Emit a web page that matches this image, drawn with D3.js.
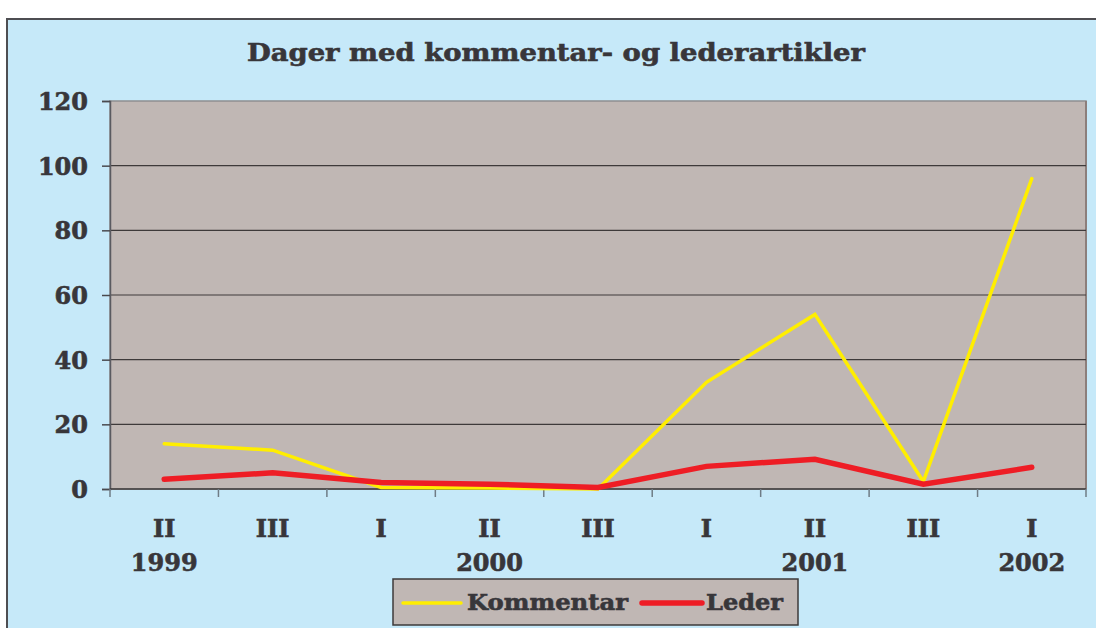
<!DOCTYPE html>
<html>
<head>
<meta charset="utf-8">
<script src="https://cdn.jsdelivr.net/npm/d3@7"></script>
<style>
	body { margin: 0; background: #fff; }
	svg text { font-family: "DejaVu Serif", serif; font-weight: bold; fill: #38363a; stroke: #38363a; stroke-width: 0.6px; }
</style>
</head>
<body>
<svg id="chart" width="1096" height="628"></svg>
<script>
(function() {

	// DATA
	var quarters = ['II', 'III', 'I', 'II', 'III', 'I', 'II', 'III', 'I'];
	var years = ['1999', '', '', '2000', '', '', '2001', '', '2002'];
	var kommentar = [14, 12, 0.5, 0.3, 0, 33, 54, 2.3, 96];
	var leder = [3, 5, 2, 1.5, 0.5, 7, 9.2, 1.5, 6.7];
	var yTicks = [0, 20, 40, 60, 80, 100, 120];
	var seriesNames = ['Kommentar', 'Leder'];

	//VARS
	var colors = { Kommentar: '#ffee00', Leder: '#ee1d25' }
	var widths = { Kommentar: 3.5, Leder: 5.5 }
	var margin = { top: 101, bottom: 139, left: 110, right: 10 }
	var width = 1096 - margin.left - margin.right
	var height = 628 - margin.top - margin.bottom

	var svg = d3.select('#chart')

	// frame
	svg.append('rect')
		.attr('x', 7).attr('y', 19)
		.attr('width', 1200).attr('height', 700)
		.attr('fill', '#c6e9f9')
		.attr('stroke', '#4e4e52')
		.attr('stroke-width', 2)

	svg.append('text')
		.attr('x', 556)
		.attr('y', 61)
		.attr('text-anchor', 'middle')
		.attr('font-size', 24)
		.attr('textLength', 618)
		.attr('lengthAdjust', 'spacingAndGlyphs')
		.text('Dager med kommentar- og lederartikler')

	var g = svg.append('g')
		.attr('transform', 'translate(' + margin.left + ',' + margin.top + ')')

	// SCALES
	var x = d3.scaleBand()
		.domain(d3.range(quarters.length))
		.range([0, width])

	var y = d3.scaleLinear()
		.domain([0, 120])
		.range([height, 0])

	// plot area
	g.append('rect')
		.attr('width', width)
		.attr('height', height)
		.attr('fill', '#c0b7b4')
		.attr('stroke', '#8e8e90')
		.attr('stroke-width', 1.5)

	g.append('line')
		.attr('x1', width).attr('x2', width)
		.attr('y1', 0).attr('y2', height)
		.attr('stroke', '#8c7e7b')
		.attr('stroke-width', 2)

	// gridlines
	g.append('g')
		.selectAll('line')
		.data(yTicks.filter(function(d) { return d > 0 && d < 120; }))
		.enter().append('line')
		.attr('x1', 0).attr('x2', width)
		.attr('y1', function(d) { return y(d); })
		.attr('y2', function(d) { return y(d); })
		.attr('stroke', '#3e3a3a')
		.attr('stroke-width', 1.2)

	// y axis
	var axisY = d3.axisLeft(y)
		.tickValues(yTicks)
		.tickSize(8)
		.tickPadding(14)

	var gy = g.append('g').attr('class', 'axis axis--y').call(axisY)
	gy.select('.domain').attr('stroke', '#5a5a60').attr('stroke-width', 1.5)
	gy.selectAll('.tick line').attr('stroke', '#4a4a4e').attr('stroke-width', 1.5)
	gy.selectAll('.tick text')
		.attr('font-size', 24)
		.attr('font-family', '"DejaVu Serif", serif')
		.attr('font-weight', 'bold')
		.attr('fill', '#38363a')
		.attr('dy', '0.36em')

	// x axis baseline + boundary ticks
	g.append('line')
		.attr('x1', 0).attr('x2', width)
		.attr('y1', height).attr('y2', height)
		.attr('stroke', '#3e3a3a')
		.attr('stroke-width', 1.5)

	var bounds = x.domain().map(function(d) { return x(d); }).concat([width])
	g.append('g')
		.selectAll('line')
		.data(bounds)
		.enter().append('line')
		.attr('x1', function(d) { return d; })
		.attr('x2', function(d) { return d; })
		.attr('y1', height)
		.attr('y2', height + 8)
		.attr('stroke', '#6f7c86')
		.attr('stroke-width', 1.5)

	var labels = g.append('g').attr('class', 'axis axis--x')
	labels.selectAll('.quarter')
		.data(quarters)
		.enter().append('text')
		.attr('class', 'quarter')
		.attr('x', function(d, i) { return x(i) + x.bandwidth() / 2; })
		.attr('y', height + 48)
		.attr('text-anchor', 'middle')
		.attr('font-size', 24)
		.text(function(d) { return d; })

	labels.selectAll('.year')
		.data(years)
		.enter().append('text')
		.attr('class', 'year')
		.attr('x', function(d, i) { return x(i) + x.bandwidth() / 2; })
		.attr('y', height + 82)
		.attr('text-anchor', 'middle')
		.attr('font-size', 24)
		.text(function(d) { return d; })

	// LINES
	var line = d3.line()
		.x(function(d, i) { return x(i) + x.bandwidth() / 2; })
		.y(function(d) { return y(d); })

	var seriesData = { Kommentar: kommentar, Leder: leder }

	g.selectAll('.series')
		.data(seriesNames)
		.enter().append('path')
		.attr('class', 'series')
		.attr('d', function(d) { return line(seriesData[d]); })
		.attr('fill', 'none')
		.attr('stroke', function(d) { return colors[d]; })
		.attr('stroke-width', function(d) { return widths[d]; })
		.attr('stroke-linecap', 'round')
		.attr('stroke-linejoin', 'miter')

	// LEGEND
	var legend = svg.append('g').attr('transform', 'translate(393,579)')
	legend.append('rect')
		.attr('width', 405)
		.attr('height', 46)
		.attr('fill', '#c0b7b4')
		.attr('stroke', '#3e3a3a')
		.attr('stroke-width', 1.5)

	var items = [
		{ name: 'Kommentar', x0: 10, x1: 68, tx: 74, tl: 161 },
		{ name: 'Leder', x0: 249, x1: 309, tx: 313, tl: 77 }
	]
	var item = legend.selectAll('.item')
		.data(items)
		.enter().append('g')
		.attr('class', 'item')

	item.append('line')
		.attr('x1', function(d) { return d.x0; })
		.attr('x2', function(d) { return d.x1; })
		.attr('y1', 24).attr('y2', 24)
		.attr('stroke', function(d) { return colors[d.name]; })
		.attr('stroke-width', function(d) { return widths[d.name]; })
		.attr('stroke-linecap', 'round')

	item.append('text')
		.attr('x', function(d) { return d.tx; })
		.attr('y', 31)
		.attr('font-size', 23)
		.attr('textLength', function(d) { return d.tl; })
		.attr('lengthAdjust', 'spacingAndGlyphs')
		.text(function(d) { return d.name; })

})()
</script>
</body>
</html>
